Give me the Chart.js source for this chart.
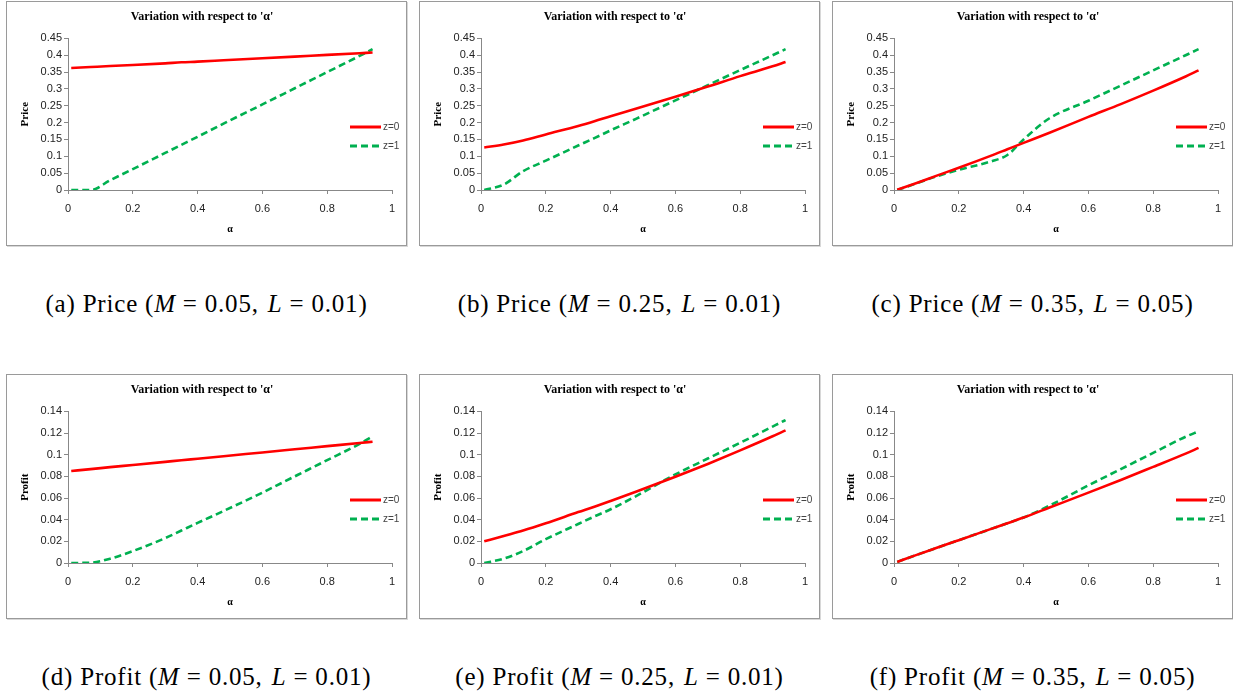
<!DOCTYPE html>
<html>
<head>
<meta charset="utf-8">
<script src="https://cdn.jsdelivr.net/npm/chart.js@4.4.1/dist/chart.umd.min.js"></script>
<style>
  html, body { margin: 0; padding: 0; background: #fff; }
  body { width: 1233px; height: 692px; position: relative; overflow: hidden; }
  .panel { position: absolute; width: 401px; height: 245px; }
  .panel::after { content: ''; position: absolute; inset: 0; border: 1px solid #9a9a9a;
    box-shadow: 1px 1px 0 #d8d8d8; pointer-events: none; }
  .panel canvas { position: absolute; left: 0; top: 0; }
  .caption { position: absolute; width: 401px; text-align: center; font-family: "Liberation Serif", serif;
    font-size: 25px; line-height: 25px; color: #000; white-space: nowrap; letter-spacing: 0.8px; }
  .caption .eq { margin: 0 7px; }
  .caption .sep { margin-right: 2px; }
</style>
</head>
<body>
<script>
// alpha values shared by all six panels
const alpha = [0.01, 0.07, 0.13, 0.2, 0.3, 0.35, 0.4, 0.48, 0.6, 0.7, 0.8, 0.9, 0.94];

// price, z=0 / z=1
const priceA0 = [0.362, 0.365, 0.368, 0.371, 0.376, 0.379, 0.381, 0.385, 0.391, 0.396, 0.401, 0.406, 0.408];
const priceA1 = [0, 0, 0.029, 0.062, 0.110, 0.134, 0.158, 0.197, 0.254, 0.302, 0.350, 0.398, 0.418];
const priceB0 = [0.126, 0.135, 0.147, 0.165, 0.190, 0.204, 0.219, 0.242, 0.277, 0.307, 0.338, 0.367, 0.380];
const priceB1 = [0, 0.016, 0.056, 0.087, 0.132, 0.154, 0.177, 0.212, 0.266, 0.311, 0.356, 0.400, 0.418];
const priceC0 = [0.001, 0.021, 0.042, 0.066, 0.102, 0.121, 0.140, 0.170, 0.217, 0.255, 0.295, 0.337, 0.355];
const priceC1 = [0, 0.020, 0.040, 0.060, 0.085, 0.104, 0.150, 0.213, 0.265, 0.310, 0.355, 0.400, 0.418];

// profit, z=0 / z=1
const profitD0 = [0.085, 0.0867, 0.0885, 0.0905, 0.0934, 0.0949, 0.0963, 0.0986, 0.1021, 0.105, 0.1079, 0.1108, 0.112];
const profitD1 = [0, 0.0003, 0.004, 0.011, 0.023, 0.030, 0.037, 0.048, 0.065, 0.080, 0.095, 0.110, 0.117];
const profitE0 = [0.020, 0.025, 0.030, 0.0367, 0.047, 0.052, 0.0573, 0.066, 0.0796, 0.0915, 0.104, 0.117, 0.1225];
const profitE1 = [0, 0.004, 0.011, 0.022, 0.036, 0.043, 0.0496, 0.062, 0.0818, 0.0965, 0.111, 0.126, 0.132];
const profitF0 = [0.001, 0.0075, 0.0138, 0.0211, 0.0315, 0.0367, 0.042, 0.0512, 0.065, 0.0767, 0.0888, 0.101, 0.1063];
const profitF1 = [0.001, 0.0075, 0.0138, 0.0211, 0.0315, 0.0367, 0.042, 0.053, 0.0717, 0.0867, 0.1017, 0.1166, 0.1216];

const seriesLabels = ['z=0', 'z=1'];
const chartTitle = "Variation with respect to '\u03b1'";
const xTitle = '\u03b1';
const priceAxis = { title: 'Price', max: 0.45, step: 0.05 };
const profitAxis = { title: 'Profit', max: 0.14, step: 0.02 };

// caption parts: label, quantity, M, L
const captionTags = ['(a)', '(b)', '(c)', '(d)', '(e)', '(f)'];
const captionNames = ['Price', 'Price', 'Price', 'Profit', 'Profit', 'Profit'];
const captionM = ['0.05', '0.25', '0.35', '0.05', '0.25', '0.35'];
const captionL = ['0.01', '0.01', '0.05', '0.01', '0.01', '0.05'];

const panels = [
  { left: 6,   top: 1,   axis: priceAxis,  z0: priceA0,  z1: priceA1 },
  { left: 419, top: 1,   axis: priceAxis,  z0: priceB0,  z1: priceB1 },
  { left: 832, top: 1,   axis: priceAxis,  z0: priceC0,  z1: priceC1 },
  { left: 6,   top: 374, axis: profitAxis, z0: profitD0, z1: profitD1 },
  { left: 419, top: 374, axis: profitAxis, z0: profitE0, z1: profitE1 },
  { left: 832, top: 374, axis: profitAxis, z0: profitF0, z1: profitF1 }
];

// small legend drawn over the right part of the plot, like the Excel original
const legendOverlay = {
  id: 'legendOverlay',
  afterDraw(chart) {
    const ctx = chart.ctx;
    chart.data.datasets.forEach((ds, i) => {
      const y = 126 + i * 19;
      ctx.save();
      ctx.strokeStyle = ds.borderColor;
      ctx.lineWidth = 3;
      ctx.setLineDash(ds.borderDash || []);
      ctx.beginPath();
      ctx.moveTo(344, y);
      ctx.lineTo(375, y);
      ctx.stroke();
      ctx.setLineDash([]);
      ctx.fillStyle = '#444';
      ctx.font = '10px "Liberation Sans", Arial, sans-serif';
      ctx.textBaseline = 'middle';
      ctx.fillText(ds.label, 377, y);
      ctx.restore();
    });
  }
};

const fmt = v => String(+v.toFixed(2));

function makePanel(p, idx) {
  const wrap = document.createElement('div');
  wrap.className = 'panel';
  wrap.style.left = p.left + 'px';
  wrap.style.top = p.top + 'px';
  const canvas = document.createElement('canvas');
  canvas.width = 401;
  canvas.height = 245;
  wrap.appendChild(canvas);
  document.body.appendChild(wrap);

  const cap = document.createElement('div');
  cap.className = 'caption';
  cap.style.left = p.left + 'px';
  cap.style.top = (p.top + 290) + 'px';
  cap.innerHTML = `${captionTags[idx]} ${captionNames[idx]} (<i>M</i><span class="eq">=</span>${captionM[idx]},<span class="sep"></span> <i>L</i><span class="eq">=</span>${captionL[idx]})`;
  document.body.appendChild(cap);

  const tickFont = { family: '"Liberation Sans", Arial, sans-serif', size: 11 };
  const gridOpts = { drawOnChartArea: false, drawTicks: true, tickLength: 4, color: '#888' };

  new Chart(canvas.getContext('2d'), {
    type: 'line',
    data: {
      datasets: [
        {
          label: seriesLabels[0],
          data: alpha.map((a, i) => ({ x: a, y: p.z0[i] })),
          borderColor: '#ff0000',
          borderWidth: 2.6,
          pointRadius: 0,
          cubicInterpolationMode: 'monotone'
        },
        {
          label: seriesLabels[1],
          data: alpha.map((a, i) => ({ x: a, y: p.z1[i] })),
          borderColor: '#00b050',
          borderWidth: 2.6,
          borderDash: [7, 4],
          pointRadius: 0,
          cubicInterpolationMode: 'monotone'
        }
      ]
    },
    options: {
      responsive: false,
      animation: false,
      layout: { padding: { left: 6, right: 15, top: 0, bottom: 11 } },
      scales: {
        x: {
          type: 'linear', min: 0, max: 1,
          ticks: { stepSize: 0.2, color: '#222', font: tickFont, padding: 8, maxRotation: 0, callback: fmt },
          grid: gridOpts,
          border: { color: '#888' },
          title: { display: true, text: xTitle, color: '#000',
            font: { family: '"Liberation Serif", serif', size: 10, weight: 'bold' }, padding: { top: 0, bottom: 0 } },
          afterFit(scale) { scale.height = 45; }
        },
        y: {
          min: 0, max: p.axis.max,
          ticks: { stepSize: p.axis.step, color: '#222', font: tickFont, padding: 2, callback: fmt },
          grid: gridOpts,
          border: { color: '#888' },
          title: { display: true, text: p.axis.title, color: '#000',
            font: { family: '"Liberation Serif", serif', size: 11, weight: 'bold' }, padding: { top: 7, bottom: 0 } },
          afterFit(scale) { scale.width = 56; }
        }
      },
      plugins: {
        legend: { display: false },
        tooltip: { enabled: false },
        title: {
          display: true, text: chartTitle, color: '#000',
          font: { family: '"Liberation Serif", serif', size: 12, weight: 'bold' },
          padding: { top: 9, bottom: 14 }
        }
      }
    },
    plugins: [legendOverlay]
  });
}

panels.forEach(makePanel);
</script>
</body>
</html>
